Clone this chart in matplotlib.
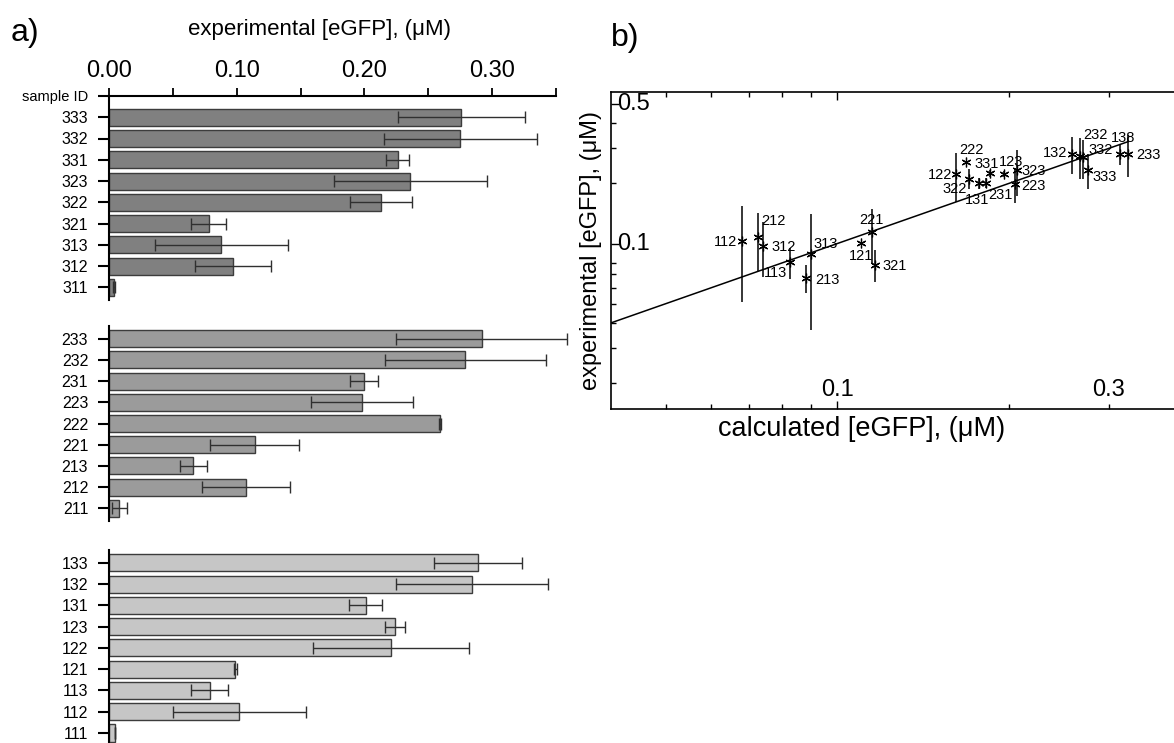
import matplotlib
matplotlib.use("Agg")
import matplotlib.pyplot as plt
import numpy as np
from matplotlib.ticker import FixedLocator, NullFormatter
from matplotlib.transforms import blended_transform_factory

plt.rcParams['font.family'] = ['Liberation Sans', 'DejaVu Sans']

# ---------------- Panel a data (experimental [eGFP], uM) ----------------
group3_ids = ['333', '332', '331', '323', '322', '321', '313', '312', '311']
group3_vals = [0.276, 0.275, 0.226, 0.236, 0.213, 0.078, 0.088, 0.097, 0.004]
group3_errs = [0.050, 0.060, 0.009, 0.060, 0.024, 0.014, 0.052, 0.030, 0.001]

group2_ids = ['233', '232', '231', '223', '222', '221', '213', '212', '211']
group2_vals = [0.292, 0.279, 0.200, 0.198, 0.259, 0.114, 0.066, 0.107, 0.008]
group2_errs = [0.067, 0.063, 0.011, 0.040, 0.001, 0.035, 0.0105, 0.0345, 0.006]

group1_ids = ['133', '132', '131', '123', '122', '121', '113', '112', '111']
group1_vals = [0.289, 0.284, 0.201, 0.224, 0.221, 0.099, 0.079, 0.102, 0.005]
group1_errs = [0.0345, 0.0595, 0.013, 0.008, 0.061, 0.001, 0.0145, 0.052, 0.0]

a_xticks_major = [0.00, 0.10, 0.20, 0.30]
a_xticks_minor = [0.05, 0.15, 0.25, 0.35]

# ---------------- Panel b data (calculated vs experimental) ----------------
b_ids = ['112', '212', '312', '113', '313', '213', '221', '121', '321',
         '122', '222', '322', '331', '131', '231', '123', '323', '223',
         '132', '232', '332', '333', '138', '233']
b_calc = [0.0680, 0.0726, 0.0741, 0.0826, 0.0900, 0.0882, 0.1151, 0.1102, 0.1166,
          0.1618, 0.1680, 0.1702, 0.1852, 0.1771, 0.1827, 0.1960, 0.2072, 0.2049,
          0.2585, 0.2667, 0.2697, 0.2752, 0.3138, 0.3245]
b_exp = [0.1027, 0.1076, 0.0977, 0.0806, 0.0888, 0.0673, 0.1140, 0.1003, 0.0784,
         0.2222, 0.2562, 0.2114, 0.2256, 0.2009, 0.2009, 0.2240, 0.2327, 0.1996,
         0.2824, 0.2747, 0.2713, 0.2346, 0.2820, 0.2820]
b_err = [0.052, 0.0345, 0.030, 0.0145, 0.052, 0.0105, 0.035, 0.001, 0.014,
         0.061, 0.001, 0.024, 0.009, 0.013, 0.011, 0.008, 0.060, 0.040,
         0.060, 0.063, 0.060, 0.046, 0.0345, 0.067]
fit_slope = 1.0        # log-log fit
fit_intercept = 0.0
b_xtick_labels = [0.1, 0.3]
b_ytick_labels = [0.1, 0.5]
b_xminor = [0.05, 0.06, 0.07, 0.08, 0.09, 0.2, 0.3, 0.4]
b_yminor = [0.02, 0.03, 0.04, 0.05, 0.06, 0.07, 0.08, 0.2, 0.3, 0.4]

# label offsets in pixels (dx right, dy down) -- styling only
b_label_offsets = [(-17, 1), (15, -16), (20, 1), (-15, 11), (14, -10), (21, 2),
                   (-1, -12), (0, 13), (19, 1), (-16, 1), (6, -12), (-14, 10),
                   (-3, -9), (-2, 17), (14, 12), (7, -12), (16, 1), (19, 2),
                   (-17, -1), (16, -21), (18, -7), (17, 7), (3, -16), (20, 1)]

# ---------------- Figure ----------------
W, H = 1174, 743
fig = plt.figure(figsize=(W / 100, H / 100), dpi=100)


def box(l, t, r, b):
    return [l / W, 1 - b / H, (r - l) / W, (b - t) / H]


groups = [
    (group3_ids, group3_vals, group3_errs, '#808080', box(109, 96, 556, 300), (8.6, -1)),
    (group2_ids, group2_vals, group2_errs, '#9b9b9b', box(109, 326, 556, 521), (8.6, -0.6)),
    (group1_ids, group1_vals, group1_errs, '#c6c6c6', box(109, 550, 556, 743), (8.47, -0.6)),
]

axes_a = []
for gi, (ids, vals, errs, col, pos, ylim) in enumerate(groups):
    ax = fig.add_axes(pos)
    axes_a.append(ax)
    y = np.arange(len(ids))
    bc = ax.barh(y, vals, height=0.8, color=col, edgecolor='#3c3c3c', linewidth=1.0,
                 xerr=errs, error_kw=dict(ecolor='#303030', elinewidth=1.0,
                                          capsize=4.5, capthick=1.0))
    data_line, caplines, barcols = bc.errorbar.lines
    for art in list(caplines) + list(barcols):
        art.set_clip_on(False)
    ax.set_xlim(0, 0.35)
    ax.set_ylim(*ylim)
    ax.spines['right'].set_visible(False)
    ax.spines['bottom'].set_visible(False)
    ax.spines['left'].set_linewidth(1.5)
    ax.tick_params(axis='y', direction='out', length=8, width=1.5,
                   labelsize=11.5, pad=7)
    if gi == 0:
        ax.set_yticks([-1] + list(y))
        ax.set_yticklabels(['sample ID'] + ids)
        ax.get_yticklabels()[0].set_fontsize(10.5)
        ax.xaxis.tick_top()
        ax.xaxis.set_label_position('top')
        ax.set_xticks(a_xticks_major)
        ax.set_xticks(a_xticks_minor, minor=True)
        ax.set_xticklabels([f'{v:.2f}' for v in a_xticks_major])
        ax.tick_params(axis='x', which='both', direction='out', length=6,
                       width=1.3, labelsize=17, pad=4)
        ax.spines['top'].set_linewidth(1.5)
        ax.set_xlabel('experimental [eGFP], (\u03bcM)', fontsize=16)
        ax.xaxis.set_label_coords(0.47, 1.0 + 61 / 204)
    else:
        ax.set_yticks(list(y))
        ax.set_yticklabels(ids)
        ax.spines['top'].set_visible(False)
        ax.set_xticks([])

fig.text(11 / W, 1 - 33 / H, 'a)', fontsize=23, ha='left', va='center')
fig.text(611 / W, 1 - 38 / H, 'b)', fontsize=23, ha='left', va='center')

# ---------------- Panel b ----------------
axb = fig.add_axes(box(611, 91.7, 1180, 409))
axb.set_xscale('log')
axb.set_yscale('log')
axb.set_xlim(0.04, 0.4)
axb.set_ylim(0.0148, 0.577)

xs = np.geomspace(axb.get_xlim()[0], max(b_calc), 50)
axb.plot(xs, 10 ** fit_intercept * xs ** fit_slope, color='black', lw=1.1, zorder=2)

axb.errorbar(b_calc, b_exp, yerr=b_err, fmt='none', ecolor='black',
             elinewidth=1.1, capsize=0, zorder=3)
axb.plot(b_calc, b_exp, linestyle='none', marker=(6, 2, 0), markersize=7,
         markeredgewidth=0.9, color='black', zorder=4)
for lab, xv, yv, (dx, dy) in zip(b_ids, b_calc, b_exp, b_label_offsets):
    axb.annotate(lab, (xv, yv), xytext=(dx, -dy), textcoords='offset pixels',
                 ha='center', va='center', fontsize=10.5)

axb.xaxis.set_major_locator(FixedLocator([0.1]))
axb.xaxis.set_minor_locator(FixedLocator(b_xminor))
axb.yaxis.set_major_locator(FixedLocator([0.1, 0.5]))
axb.yaxis.set_minor_locator(FixedLocator(b_yminor))
for a in (axb.xaxis, axb.yaxis):
    a.set_major_formatter(NullFormatter())
    a.set_minor_formatter(NullFormatter())
axb.tick_params(which='both', direction='in', top=True, right=False,
                bottom=True, left=True, width=1.0)
axb.tick_params(which='major', length=6)
axb.tick_params(which='minor', length=3.5)
for sp in axb.spines.values():
    sp.set_linewidth(1.2)

tx = blended_transform_factory(axb.transData, axb.transAxes)
for v in b_xtick_labels:
    axb.text(v, 0.06, f'{v:g}', transform=tx, ha='center', va='center', fontsize=17)
ty = blended_transform_factory(axb.transAxes, axb.transData)
for v in b_ytick_labels:
    axb.text(0.011, v, f'{v:g}', transform=ty, ha='left', va='center', fontsize=17)

axb.set_xlabel('calculated [eGFP], (\u03bcM)', fontsize=19.5)
axb.xaxis.set_label_coords(251 / 569, -7 / 317.3)
axb.set_ylabel('experimental [eGFP], (\u03bcM)', fontsize=17)
axb.yaxis.set_label_coords(-9 / 569, 0.5)

fig.savefig('out.png', dpi=100)
